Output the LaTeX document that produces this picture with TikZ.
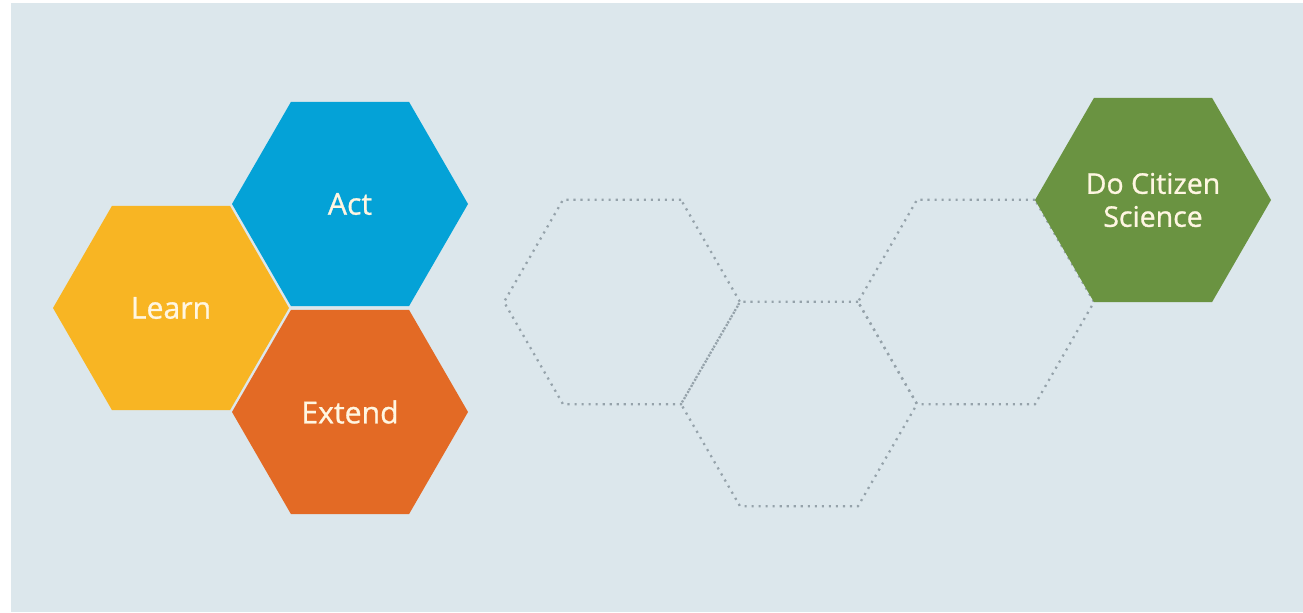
\documentclass[tikz,border=0pt]{standalone}
\usepackage{fontspec}
\setmainfont{Open Sans}
\newfontfamily\rotulo{Open Sans}[FakeBold=0.9]
\usetikzlibrary{shapes.geometric}

\definecolor{fondo}{HTML}{DCE7EC}
\definecolor{amarillo}{HTML}{F8B523}
\definecolor{azul}{HTML}{04A2D7}
\definecolor{naranja}{HTML}{E36A25}
\definecolor{verde}{HTML}{6A9341}
\definecolor{punteado}{HTML}{95A2AA}
\definecolor{crema}{HTML}{FFF6E2}

\begin{document}
\begin{tikzpicture}[
		hexa/.style={regular polygon, regular polygon sides=6, minimum size=2.36cm, inner sep=0pt, outer sep=0pt, draw=none, text=crema, font=\rotulo\fontsize{8.6}{9.4}\selectfont, align=center},
		hueco/.style={regular polygon, regular polygon sides=6, minimum size=2.36cm, inner sep=0pt, draw=punteado, line width=0.65pt, dash pattern=on 0.6pt off 1.4pt}
	]
		% Fondo
			\useasboundingbox (0,0) rectangle (13.03,6.12);
			\fill[fondo] (0.11,0) rectangle (13.03,6.09);
		% Hexágonos de colores
			\node[hexa, fill=amarillo] (learn) at (1.71,3.04) {Learn};
			\node[hexa, fill=azul] (act) at (3.50,4.08) {Act};
			\node[hexa, fill=naranja] (extend) at (3.50,2.00) {Extend};
		% Hexágonos vacíos
			\node[hueco] (paso1) at (6.22,3.10) {};
			\node[hueco] (paso2) at (7.99,2.08) {};
			\node[hueco] (paso3) at (9.76,3.10) {};
		% Meta
			\node[hexa, fill=verde, font=\rotulo\fontsize{8.1}{9.4}\selectfont] (ciencia) at (11.53,4.12) {Do Citizen\\Science};
	\end{tikzpicture}
\end{document}
